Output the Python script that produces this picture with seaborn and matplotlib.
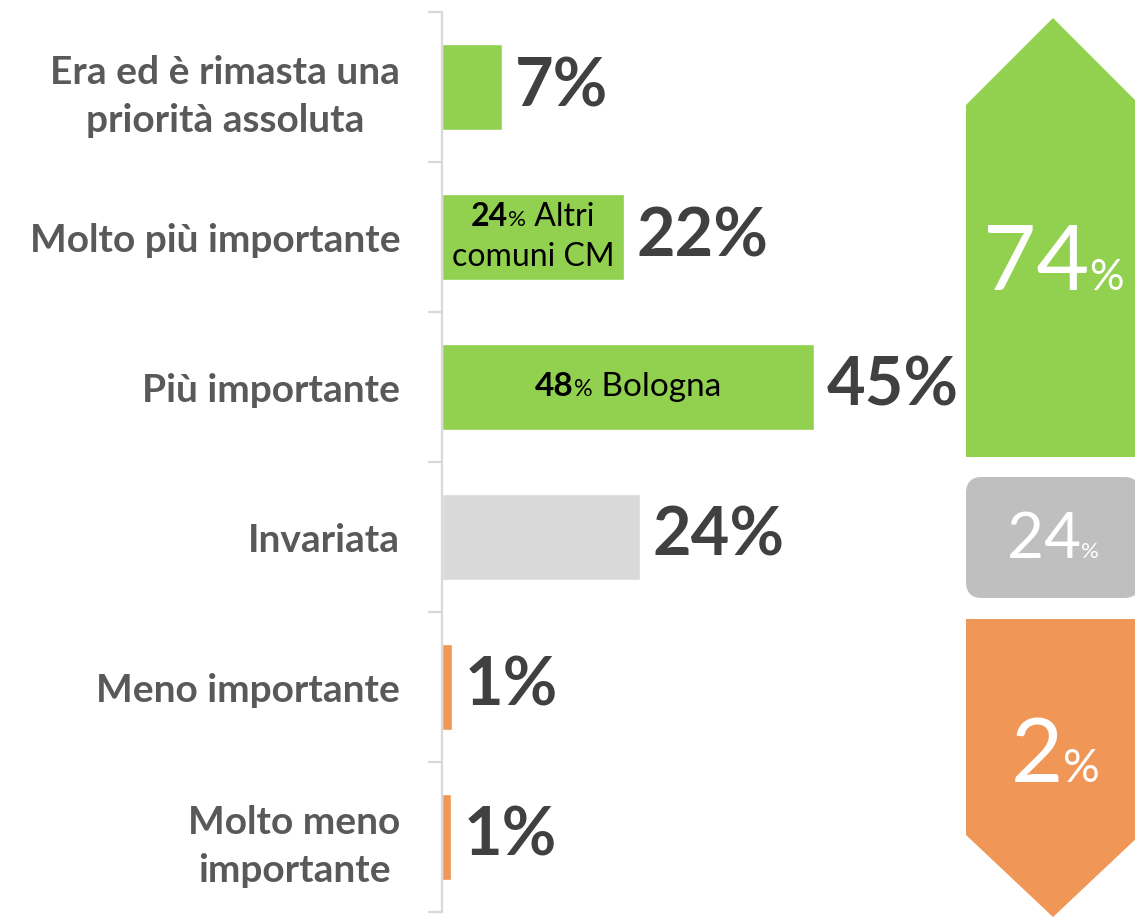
import pandas as pd
import seaborn as sns
import matplotlib.pyplot as plt
from matplotlib.patches import Polygon, FancyBboxPatch
from matplotlib.offsetbox import TextArea, HPacker, VPacker, AnnotationBbox

categories = ["Era ed è rimasta una\npriorità assoluta", "Molto più importante", "Più importante",
              "Invariata", "Meno importante", "Molto meno\nimportante"]
values = [7.3, 22.0, 45.0, 24.0, 1.2, 1.1]
value_labels = ["7%", "22%", "45%", "24%", "1%", "1%"]
bar_colors = ["#92D050", "#92D050", "#92D050", "#D9D9D9", "#F09656", "#F09656"]
group_totals = ["74", "24", "2"]

sns.set_style("white")
plt.rcParams['font.family'] = ['Lato', 'DejaVu Sans']

df = pd.DataFrame({"cat": categories, "val": values})

fig = plt.figure(figsize=(11.35, 9.18), dpi=100)
ax = fig.add_axes([442 / 1135, 6 / 918, 508 / 1135, 900 / 918])
sns.barplot(data=df, x="val", y="cat", hue="cat", palette=bar_colors, legend=False,
            width=0.57, saturation=1, ax=ax)
ax.set_xlim(0, 508 / 8.27)
ax.set_ylim(5.5, -0.5)
ax.set_xlabel("")
ax.set_ylabel("")
ax.set_xticks([])
for s in ["top", "right", "bottom"]:
    ax.spines[s].set_visible(False)
ax.spines["left"].set_color("#D9D9D9")
ax.spines["left"].set_linewidth(1.6)
ax.set_yticks(range(6))
ax.set_yticks([i - 0.5 for i in range(7)], minor=True)
ax.tick_params(axis="y", which="major", left=True, length=0, pad=30, labelsize=28,
               labelcolor="#595959")
ax.tick_params(axis="y", which="minor", left=True, length=10, width=1.6, color="#D9D9D9")
for lab in ax.get_yticklabels():
    lab.set_fontweight("bold")
    lab.set_multialignment("center")
    lab.set_linespacing(1.45)

for cont, lab in zip(ax.containers, value_labels):
    ax.bar_label(cont, labels=[lab], padding=9, fontsize=48, fontweight="bold", color="#404040")


# breakdown labels inside bars
def inner(num, rest, size):
    return HPacker(children=[
        TextArea(num, textprops=dict(fontsize=size, fontweight="bold", color="black")),
        TextArea("%", textprops=dict(fontsize=size * 0.7, color="black")),
        TextArea(rest, textprops=dict(fontsize=size, color="black")),
    ], align="baseline", pad=0, sep=0)


box1 = VPacker(children=[inner("24", " Altri", 23),
                         TextArea("comuni CM", textprops=dict(fontsize=23, color="black"))],
               align="center", pad=0, sep=7)
ax.add_artist(AnnotationBbox(box1, (values[1] / 2, 1), frameon=False, box_alignment=(0.5, 0.5)))
ax.add_artist(AnnotationBbox(inner("48", " Bologna", 24), (values[2] / 2, 2), frameon=False,
                             box_alignment=(0.5, 0.5)))

# summary shapes on the right
ov = fig.add_axes([0, 0, 1, 1])
ov.set_xlim(0, 1135)
ov.set_ylim(918, 0)
ov.axis("off")
ov.add_patch(Polygon([(966, 457), (966, 105), (1053, 18), (1140, 105), (1140, 457)],
                     closed=True, color="#92D050", lw=0))
ov.add_patch(FancyBboxPatch((966, 477), 174, 121, boxstyle="round,pad=0,rounding_size=16",
                            color="#BFBFBF", lw=0))
ov.add_patch(Polygon([(966, 619), (966, 835), (1053, 917), (1140, 835), (1140, 619)],
                     closed=True, color="#F09656", lw=0))


def total(num, big, small):
    return HPacker(children=[
        TextArea(num, textprops=dict(fontsize=big, color="white")),
        TextArea("%", textprops=dict(fontsize=small, color="white")),
    ], align="baseline", pad=0, sep=0)


for txt, big, small, pos in zip(group_totals, [66, 46, 65], [31, 16, 33],
                                [(1053, 265), (1053, 540), (1055, 757)]):
    ov.add_artist(AnnotationBbox(total(txt, big, small), pos, frameon=False,
                                 box_alignment=(0.5, 0.5)))

fig.savefig("out.png", dpi=100)
